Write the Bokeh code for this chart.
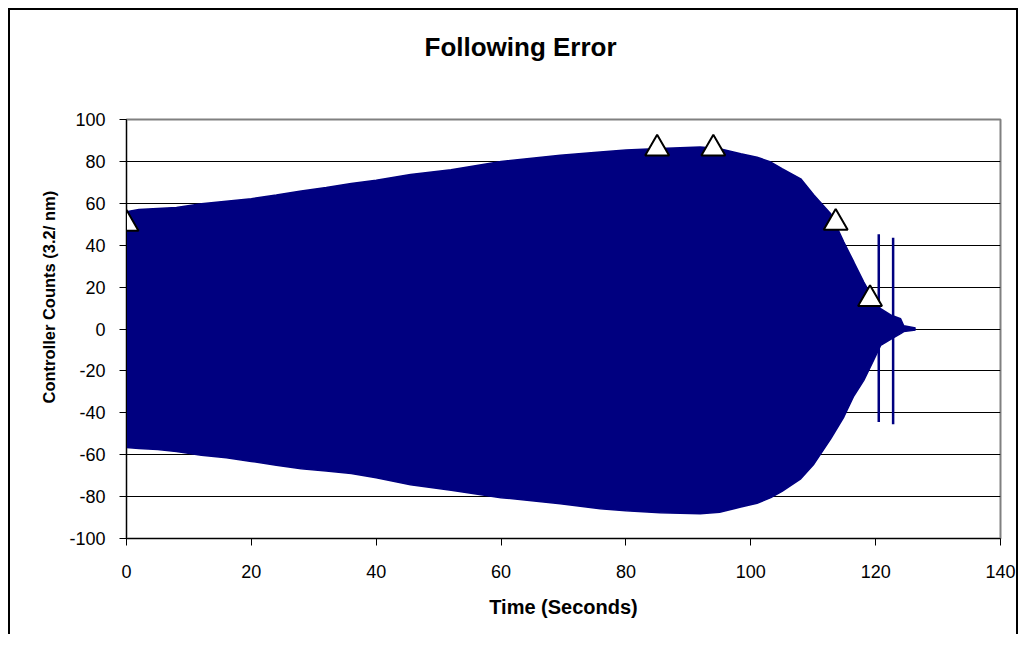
from bokeh.plotting import figure
from bokeh.models import Range1d, FixedTicker, PrintfTickFormatter, Title
from bokeh.embed import file_html
from bokeh.resources import INLINE

# ---- data ----
env_t = [0, 2, 5, 8, 12, 16, 20, 24, 28, 32, 36, 40, 45.5, 52, 60, 69.5, 75.9, 80,
         85.5, 91.9, 95, 98.4, 101, 103.2, 105, 108, 110.1, 112.8, 114.9, 116.5,
         118.1, 119.5, 120.8, 122.4, 124, 124.5, 126.4]
env_upper = [56, 57, 57.5, 58, 59.8, 61, 62.2, 64, 65.9, 67.5, 69.4, 71, 73.7, 76, 80,
             82.9, 84.5, 85.5, 86.1, 86.9, 86, 83.7, 82, 79.7, 76.5, 71.7, 64, 55,
             41.5, 32, 22.4, 15, 9.7, 6.7, 4.9, 1.5, 0.5]
env_lower = [-56.6, -57, -57.5, -58.5, -60.3, -61.5, -63.2, -65, -66.7, -67.8, -69,
             -71, -74.3, -77, -80.5, -83.4, -85.8, -86.8, -87.7, -88.2, -87.5, -85,
             -83.2, -80.5, -77.5, -71.5, -64.5, -52.4, -42, -32, -24.5, -16, -7.8,
             -5, -2.2, -1.2, -0.5]

spike_t = [120.5, 122.8]
spike_hi = [45.2, 43.6]
spike_lo = [-44.4, -45.5]

marker_t = [0, 85, 94, 113.6, 119.1]
marker_y = [50.2, 86.1, 86.1, 50.7, 14.3]

x_ticks = [0, 20, 40, 60, 80, 100, 120, 140]
y_ticks = [-100, -80, -60, -40, -20, 0, 20, 40, 60, 80, 100]

title_text = "Following Error"
x_title = "Time (Seconds)"
y_title = "Controller Counts (3.2/ nm)"

FONT = "Liberation Sans"
NAVY = "#000080"

p = figure(width=1010, height=626, output_backend="svg", toolbar_location=None,
           title=None,
           x_range=Range1d(0, 140), y_range=Range1d(-100, 100),
           min_border_left=116, min_border_right=20, min_border_top=109,
           min_border_bottom=98)
p.styles = {"border-left": "2px solid black", "border-top": "2px solid black",
            "border-right": "2px solid black", "margin-left": "8px", "margin-top": "8px"}
p.background_fill_color = "white"
p.border_fill_color = "white"
p.outline_line_color = "#808080"
p.outline_line_width = 2

# title: a spacer panel next to the frame, then the real title further out
p.add_layout(Title(text=" ", text_font_size="1px", standoff=50), "above")
p.add_layout(Title(text=title_text, align="left", offset=298, standoff=10,
                   text_font=FONT, text_font_style="bold", text_font_size="26px",
                   text_color="black"), "above")

# grid
p.xgrid.grid_line_color = None
p.ygrid.grid_line_color = "black"
p.ygrid.grid_line_width = 1
p.ygrid.ticker = FixedTicker(ticks=y_ticks)

# axes
for ax in (p.xaxis[0], p.yaxis[0]):
    ax.axis_line_color = "black"
    ax.axis_line_width = 1
    ax.major_tick_line_color = "black"
    ax.major_tick_out = 7
    ax.major_tick_in = 0
    ax.minor_tick_line_color = None
    ax.major_label_text_font = FONT
    ax.major_label_text_font_size = "18px"
    ax.major_label_text_color = "black"
    ax.formatter = PrintfTickFormatter(format="%d")

p.xaxis[0].ticker = FixedTicker(ticks=x_ticks)
p.yaxis[0].ticker = FixedTicker(ticks=y_ticks)
p.xaxis[0].major_label_standoff = 19
p.yaxis[0].major_label_standoff = 14
p.xaxis[0].axis_label = x_title
p.xaxis[0].axis_label_text_font = FONT
p.xaxis[0].axis_label_text_font_style = "bold"
p.xaxis[0].axis_label_text_font_size = "20px"
p.xaxis[0].axis_label_text_color = "black"
p.xaxis[0].axis_label_standoff = 15

# y-axis title as a side title
p.add_layout(Title(text=y_title, align="left", offset=135, standoff=17,
                   text_font=FONT, text_font_style="bold", text_font_size="16.5px",
                   text_color="black"), "left")

# data: dense oscillation envelope
p.varea(x=env_t, y1=env_lower, y2=env_upper, fill_color=NAVY)
p.line(x=env_t, y=env_upper, line_color=NAVY, line_width=1.5)
p.line(x=env_t, y=env_lower, line_color=NAVY, line_width=1.5)
p.segment(x0=spike_t, y0=spike_lo, x1=spike_t, y1=spike_hi, line_color=NAVY, line_width=2.5)

# markers
p.scatter(x=marker_t, y=marker_y, marker="triangle", size=24, fill_color="white",
          line_color="black", line_width=2)

open("out.html", "w").write(file_html(p, INLINE))
